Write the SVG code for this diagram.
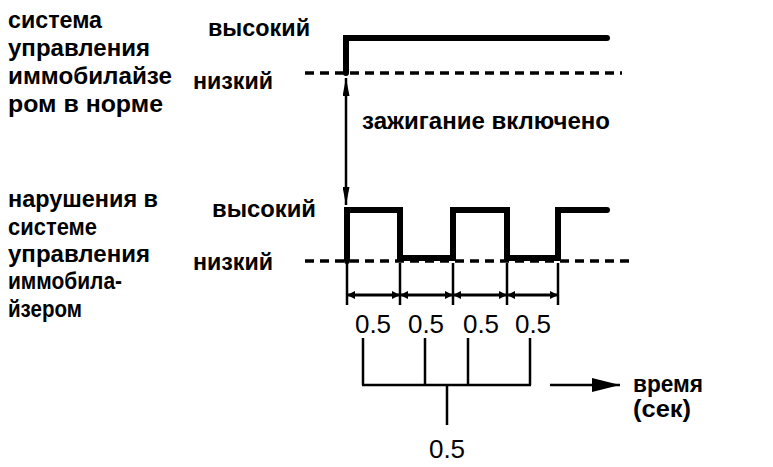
<svg xmlns="http://www.w3.org/2000/svg" width="773" height="467" viewBox="0 0 773 467">
<defs>
<style>
.lbl{font-family:"Liberation Sans",Arial,sans-serif;font-size:24px;font-weight:bold;fill:#000}
.lvl{font-family:"Liberation Sans",Arial,sans-serif;font-size:24px;font-weight:bold;fill:#000}
.num{font-family:"Liberation Sans",Arial,sans-serif;font-size:26px;fill:#000}
.cap{font-family:"Liberation Sans",Arial,sans-serif;font-size:24px;font-weight:600;fill:#000}
.sig{fill:none;stroke:#000;stroke-width:6;stroke-linejoin:miter;stroke-linecap:round}
.dash{fill:none;stroke:#000;stroke-width:3.5;stroke-dasharray:9 6}
.thin{fill:none;stroke:#000;stroke-width:2.5}
</style>
<marker id="ah" viewBox="0 0 10 10" refX="10" refY="5" markerWidth="8" markerHeight="8" markerUnits="userSpaceOnUse" orient="auto-start-reverse">
<path d="M0,0 L10,5 L0,10 z" fill="#000"/>
</marker>
<marker id="big" viewBox="0 0 10 10" refX="10" refY="5" markerWidth="28" markerHeight="14" markerUnits="userSpaceOnUse" orient="auto" preserveAspectRatio="none">
<path d="M0,0 L10,5 L0,10 z" fill="#000"/>
</marker>
<marker id="va" viewBox="0 0 10 10" refX="10" refY="5" markerWidth="18" markerHeight="7" markerUnits="userSpaceOnUse" orient="auto-start-reverse" preserveAspectRatio="none">
<path d="M0,0 L10,5 L0,10 z" fill="#000"/>
</marker>
</defs>
<rect width="773" height="467" fill="#fff"/>

<g id="label-normal">
<text class="lbl" x="8" y="28" textLength="94" lengthAdjust="spacingAndGlyphs">система</text>
<text class="lbl" x="8" y="56" textLength="142" lengthAdjust="spacingAndGlyphs">управления</text>
<text class="lbl" x="8" y="84" textLength="164" lengthAdjust="spacingAndGlyphs">иммобилайзе</text>
<text class="lbl" x="8" y="112" textLength="155" lengthAdjust="spacingAndGlyphs">ром в норме</text>
</g>
<g id="label-fault">
<text class="lbl" x="8" y="207" textLength="150" lengthAdjust="spacingAndGlyphs">нарушения в</text>
<text class="lbl" x="8" y="235" textLength="89" lengthAdjust="spacingAndGlyphs">системе</text>
<text class="lbl" x="8" y="262" textLength="142" lengthAdjust="spacingAndGlyphs">управления</text>
<text class="lbl" x="8" y="289" textLength="114" lengthAdjust="spacingAndGlyphs">иммобила-</text>
<text class="lbl" x="8" y="317" textLength="74" lengthAdjust="spacingAndGlyphs">йзером</text>
</g>
<g id="levels">
<text class="lvl" x="208" y="36" textLength="102" lengthAdjust="spacingAndGlyphs">высокий</text>
<text class="lvl" x="193" y="89" textLength="80" lengthAdjust="spacingAndGlyphs">низкий</text>
<text class="lvl" x="212" y="217" textLength="104" lengthAdjust="spacingAndGlyphs">высокий</text>
<text class="lvl" x="193" y="270" textLength="80" lengthAdjust="spacingAndGlyphs">низкий</text>
</g>
<g id="ignition-label">
<text class="cap" x="362" y="129" textLength="248" lengthAdjust="spacingAndGlyphs">зажигание включено</text>
</g>
<g id="time-label">
<text class="cap" x="633" y="392" textLength="70" lengthAdjust="spacingAndGlyphs">время</text>
<text class="cap" x="633" y="417" textLength="58" lengthAdjust="spacingAndGlyphs">(сек)</text>
</g>

<g id="connectors">
<line class="dash" x1="305" y1="73" x2="622" y2="73"/>
<path class="sig" d="M346,73 V38 H607"/>
<line class="thin" x1="346" y1="78" x2="346" y2="205" marker-start="url(#va)" marker-end="url(#va)"/>
<line class="dash" x1="305" y1="261" x2="630" y2="261"/>
<path class="sig" d="M347,261 V210 H400 V258 H453 V210 H507 V258 H558 V210 H607"/>
<g class="thin" stroke-width="3">
<line x1="347" y1="263" x2="347" y2="305"/>
<line x1="400" y1="263" x2="400" y2="305"/>
<line x1="453" y1="263" x2="453" y2="305"/>
<line x1="507" y1="263" x2="507" y2="305"/>
<line x1="558" y1="263" x2="558" y2="305"/>
</g>
<g stroke="#000" stroke-width="3" fill="none">
<line x1="347" y1="295" x2="400" y2="295" marker-start="url(#ah)" marker-end="url(#ah)"/>
<line x1="400" y1="295" x2="453" y2="295" marker-start="url(#ah)" marker-end="url(#ah)"/>
<line x1="453" y1="295" x2="507" y2="295" marker-start="url(#ah)" marker-end="url(#ah)"/>
<line x1="507" y1="295" x2="558" y2="295" marker-start="url(#ah)" marker-end="url(#ah)"/>
</g>
<g class="thin">
<line x1="363" y1="338" x2="363" y2="385"/>
<line x1="425" y1="338" x2="425" y2="385"/>
<line x1="468" y1="338" x2="468" y2="385"/>
<line x1="530" y1="338" x2="530" y2="385"/>
<line x1="362" y1="385" x2="531" y2="385"/>
<line x1="447" y1="385" x2="447" y2="425"/>
</g>
<line class="thin" x1="550" y1="385" x2="620" y2="385" marker-end="url(#big)"/>
</g>

<g id="durations">
<text class="num" x="373" y="333" text-anchor="middle">0.5</text>
<text class="num" x="426" y="333" text-anchor="middle">0.5</text>
<text class="num" x="481" y="333" text-anchor="middle">0.5</text>
<text class="num" x="533" y="333" text-anchor="middle">0.5</text>
<text class="num" x="447" y="458" text-anchor="middle">0.5</text>
</g>
</svg>
